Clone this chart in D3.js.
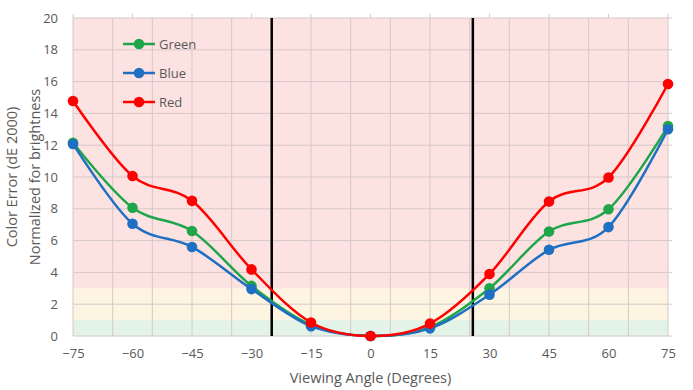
<!DOCTYPE html>
<html><head><meta charset="utf-8">
<script src="https://cdn.jsdelivr.net/npm/d3@7"></script>
<style>body{margin:0;background:#fff}svg{display:block}text{font-family:"Open Sans","Noto Sans",sans-serif;fill:#595959}</style>
</head><body><svg id="c" width="693" height="390"></svg>
<script>
const angles = [-75,-60,-45,-30,-15,0,15,30,45,60,75];
const green = [12.15,8.07,6.6,3.15,0.7,0,0.55,3.0,6.57,7.97,13.2];
const blue  = [12.08,7.06,5.6,2.95,0.62,0,0.48,2.6,5.42,6.85,13.0];
const red   = [14.78,10.06,8.5,4.19,0.85,0,0.78,3.9,8.46,9.97,15.85];
const seriesNames = ["Green","Blue","Red"];
const seriesColors = ["#1fa64a","#1f6fc2","#ff0000"];
const yTicks = [0,2,4,6,8,10,12,14,16,18,20];
const xGrid = [-75,-65,-55,-45,-35,-25,-15,-5,5,15,25,35,45,55,65,75];
const bands = [{lo:0,hi:1,c:"#e3f3e8"},{lo:1,hi:3,c:"#fdf5e2"},{lo:3,hi:20,c:"#fde2e2"}];
const refLines = [-24.9,25.8];

const svg = d3.select("#c");
const L=73,R=668,T=18,B=336;
const x = d3.scaleLinear().domain([-75,75]).range([L,R]);
const y = d3.scaleLinear().domain([0,20]).range([B,T]);

svg.selectAll("rect.band").data(bands).enter().append("rect")
  .attr("x",L).attr("width",R-L).attr("y",d=>y(d.hi)).attr("height",d=>y(d.lo)-y(d.hi)).attr("fill",d=>d.c);

svg.selectAll("line.hg").data(yTicks).enter().append("line")
  .attr("x1",L).attr("x2",R+4).attr("y1",d=>y(d)).attr("y2",d=>y(d)).attr("stroke","#d6c8c8").attr("stroke-width",1);
svg.selectAll("line.vg").data(xGrid).enter().append("line")
  .attr("x1",d=>x(d)).attr("x2",d=>x(d)).attr("y1",T).attr("y2",B).attr("stroke","#d6c8c8").attr("stroke-width",1);
svg.selectAll("line.tt").data(angles).enter().append("line")
  .attr("x1",d=>x(d)).attr("x2",d=>x(d)).attr("y1",T-4).attr("y2",T).attr("stroke","#d6c8c8");

const yAxis = d3.axisLeft(y).tickValues(yTicks).tickSize(0).tickPadding(15);
const ga = svg.append("g").attr("transform",`translate(${L},0)`).call(yAxis);
ga.select(".domain").remove();
ga.selectAll("text").style("font-size","13px").attr("fill","#595959").style("font-family","'Open Sans',sans-serif");
const xAxis = d3.axisBottom(x).tickValues(angles).tickSize(0).tickPadding(13);
const gx = svg.append("g").attr("transform",`translate(0,${B})`).call(xAxis);
gx.select(".domain").remove();
gx.selectAll("text").style("font-size","13px").attr("fill","#595959").style("font-family","'Open Sans',sans-serif");

svg.append("text").attr("x",(L+R)/2).attr("y",383).attr("text-anchor","middle").style("font-size","14.5px").text("Viewing Angle (Degrees)");
svg.append("text").attr("transform",`translate(17,${(T+B)/2}) rotate(-90)`).attr("text-anchor","middle").style("font-size","14.5px").text("Color Error (dE 2000)");
svg.append("text").attr("transform",`translate(40,${(T+B)/2}) rotate(-90)`).attr("text-anchor","middle").style("font-size","14.5px").text("Normalized for brightness");

svg.selectAll("line.ref").data(refLines).enter().append("line")
  .attr("x1",d=>x(d)).attr("x2",d=>x(d)).attr("y1",T).attr("y2",B).attr("stroke","#000").attr("stroke-width",2.5);

const data = [green,blue,red];
const line = d3.line().x((d,i)=>x(angles[i])).y(d=>y(d)).curve(d3.curveCardinal.tension(0));
data.forEach((s,k)=>{
  svg.append("path").datum(s).attr("d",line).attr("fill","none").attr("stroke",seriesColors[k]).attr("stroke-width",2.5);
  svg.selectAll(null).data(s).enter().append("circle").attr("cx",(d,i)=>x(angles[i])).attr("cy",d=>y(d)).attr("r",5.3).attr("fill",seriesColors[k]);
});

const lg = svg.append("g");
seriesNames.forEach((n,k)=>{
  const yy = 44 + k*29;
  lg.append("line").attr("x1",123).attr("x2",155).attr("y1",yy).attr("y2",yy).attr("stroke",seriesColors[k]).attr("stroke-width",2.5);
  lg.append("circle").attr("cx",139).attr("cy",yy).attr("r",5.3).attr("fill",seriesColors[k]);
  lg.append("text").attr("x",159).attr("y",yy+4.5).style("font-size","13px").text(n);
});
</script></body></html>
